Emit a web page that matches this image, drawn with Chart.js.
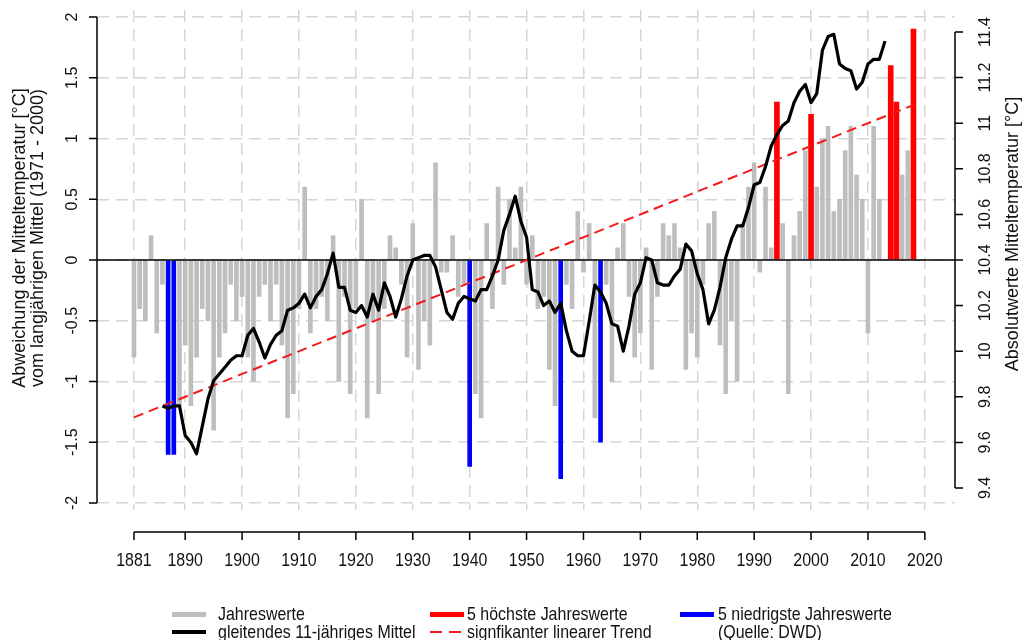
<!DOCTYPE html>
<html lang="de">
<head>
<meta charset="utf-8">
<title>Abweichung der Mitteltemperatur</title>
<script src="https://cdn.jsdelivr.net/npm/chart.js@4/dist/chart.umd.min.js"></script>
<style>
  html, body { margin: 0; padding: 0; background: #fff; }
  #wrap { position: relative; width: 1023px; height: 640px; }
  #legende { position: absolute; left: 0; top: 0; width: 1023px; height: 640px; pointer-events: none; color: #111; }
  .txt { position: absolute; line-height: 20px; height: 20px; white-space: nowrap; transform-origin: 0 50%; }
  .sym { position: absolute; width: 34px; }
</style>
</head>
<body>
<div id="wrap">
  <canvas id="klimaChart" width="1023" height="640"></canvas>
  <div id="legende">
    <div class="sym" style="left:172px; top:612px; height:5px; background:#bebebe"></div>
    <div class="txt" style="left:218px; top:604px">Jahreswerte</div>
    <div class="sym" style="left:430px; top:612px; height:5px; background:#ff0000"></div>
    <div class="txt" style="left:467px; top:604px">5 höchste Jahreswerte</div>
    <div class="sym" style="left:680px; top:612px; height:5px; background:#0000ff"></div>
    <div class="txt" style="left:718px; top:604px">5 niedrigste Jahreswerte</div>

    <div class="sym" style="left:172px; top:630px; height:4px; background:#000"></div>
    <div class="txt" style="left:218px; top:622px">gleitendes 11-jähriges Mittel</div>
    <div class="sym" style="left:430px; top:631px; height:2px; width:12px; background:#f21a1a"></div>
    <div class="sym" style="left:449px; top:631px; height:2px; width:12px; background:#f21a1a"></div>
    <div class="txt" style="left:467px; top:622px">signfikanter linearer Trend</div>
    <div class="txt" style="left:718px; top:622px">(Quelle: DWD)</div>
  </div>
</div>
<script>
// Jahre 1881 - 2018
const jahre = [
  1881, 1882, 1883, 1884, 1885, 1886, 1887, 1888, 1889, 1890,
  1891, 1892, 1893, 1894, 1895, 1896, 1897, 1898, 1899, 1900,
  1901, 1902, 1903, 1904, 1905, 1906, 1907, 1908, 1909, 1910,
  1911, 1912, 1913, 1914, 1915, 1916, 1917, 1918, 1919, 1920,
  1921, 1922, 1923, 1924, 1925, 1926, 1927, 1928, 1929, 1930,
  1931, 1932, 1933, 1934, 1935, 1936, 1937, 1938, 1939, 1940,
  1941, 1942, 1943, 1944, 1945, 1946, 1947, 1948, 1949, 1950,
  1951, 1952, 1953, 1954, 1955, 1956, 1957, 1958, 1959, 1960,
  1961, 1962, 1963, 1964, 1965, 1966, 1967, 1968, 1969, 1970,
  1971, 1972, 1973, 1974, 1975, 1976, 1977, 1978, 1979, 1980,
  1981, 1982, 1983, 1984, 1985, 1986, 1987, 1988, 1989, 1990,
  1991, 1992, 1993, 1994, 1995, 1996, 1997, 1998, 1999, 2000,
  2001, 2002, 2003, 2004, 2005, 2006, 2007, 2008, 2009, 2010,
  2011, 2012, 2013, 2014, 2015, 2016, 2017, 2018
];

// Abweichung vom Mittel 1971-2000 [°C]
const jahreswerte = [
  -0.8, -0.4, -0.5,  0.2, -0.6, -0.2, -1.6, -1.6, -1.2, -0.7,
  -1.2, -0.8, -0.4, -0.5, -1.4, -0.8, -0.6, -0.2, -0.5, -0.3,
  -0.8, -1.0, -0.3, -0.2, -0.5, -0.2, -0.7, -1.3, -1.1, -0.4,
   0.6, -0.6, -0.4, -0.3, -0.5,  0.2, -1.0, -0.3, -1.1, -0.4,
   0.5, -1.3, -0.5, -1.1, -0.4,  0.2,  0.1, -0.2, -0.8,  0.3,
  -0.9, -0.5, -0.7,  0.8, -0.1, -0.1,  0.2, -0.3, -0.2, -1.7,
  -1.1, -1.3,  0.3, -0.4,  0.6, -0.2,  0.5,  0.1,  0.6, -0.2,
   0.2, -0.4, -0.3, -0.9, -1.2, -1.8, -0.2, -0.4,  0.4, -0.1,
   0.3, -1.3, -1.5, -0.2, -1.0,  0.1,  0.3, -0.3, -0.8, -0.6,
   0.1, -0.9, -0.3,  0.3,  0.2,  0.3,  0.1, -0.9, -0.6, -0.8,
  -0.2,  0.3,  0.4, -0.7, -1.1, -0.5, -1.0,  0.3,  0.6,  0.8,
  -0.1,  0.6,  0.1,  1.3,  0.3, -1.1,  0.2,  0.4,  0.9,  1.2,
   0.6,  1.0,  1.1,  0.4,  0.5,  0.9,  1.1,  0.7,  0.5, -0.6,
   1.1,  0.5,  0.0,  1.6,  1.3,  0.7,  0.9,  1.9
];

const hoechsteJahre = [1994, 2000, 2014, 2015, 2018];
const niedrigsteJahre = [1887, 1888, 1940, 1956, 1963];

// gleitendes 11-jähriges Mittel, Absolutwerte [°C], 1886 - 2013
const gleitendesMittel = [
   9.76,  9.75,  9.76,  9.76,  9.63,  9.60,  9.55,  9.67,  9.79,  9.87,
   9.90,  9.93,  9.96,  9.98,  9.98, 10.07, 10.10, 10.04,  9.97, 10.03,
  10.07, 10.09, 10.18, 10.19, 10.21, 10.25, 10.19, 10.24, 10.27, 10.34,
  10.43, 10.28, 10.28, 10.18, 10.17, 10.20, 10.15, 10.25, 10.18, 10.30,
  10.24, 10.15, 10.23, 10.33, 10.40, 10.41, 10.42, 10.42, 10.37, 10.27,
  10.17, 10.14, 10.21, 10.24, 10.23, 10.22, 10.27, 10.27, 10.33, 10.40,
  10.53, 10.60, 10.68, 10.57, 10.50, 10.27, 10.26, 10.20, 10.22, 10.17,
  10.21, 10.09, 10.00,  9.98,  9.98, 10.13, 10.29, 10.26, 10.21, 10.12,
  10.11, 10.00, 10.11, 10.25, 10.30, 10.41, 10.40, 10.30, 10.29, 10.29,
  10.33, 10.36, 10.47, 10.44, 10.34, 10.27, 10.12, 10.18, 10.28, 10.41,
  10.49, 10.55, 10.55, 10.63, 10.73, 10.74, 10.81, 10.90, 10.95, 10.99,
  11.01, 11.09, 11.14, 11.17, 11.09, 11.13, 11.32, 11.38, 11.39, 11.26,
  11.24, 11.23, 11.15, 11.18, 11.26, 11.28, 11.28, 11.36
];
const mittelJahre = jahre.slice(5, 5 + gleitendesMittel.length);

// linearer Trend (Absolutwerte)
const trendJahre = [1881, 2018];
const trendWerte = [9.71, 11.08];

// Achsenbeschriftung
const jahresTicks = [1881, 1890, 1900, 1910, 1920, 1930, 1940, 1950, 1960, 1970, 1980, 1990, 2000, 2010, 2020];
const linkeTicks = [-2, -1.5, -1, -0.5, 0, 0.5, 1, 1.5, 2];
const rechteTicks = [9.4, 9.6, 9.8, 10, 10.2, 10.4, 10.6, 10.8, 11, 11.2, 11.4];

const xMin = 1874.5, xMax = 2025.3;
const schrift = '"Liberation Sans", Arial, sans-serif';

// Legende: etwas schmalere, höhere Schrift wie im Original
document.querySelectorAll('#legende .txt').forEach(el => {
  el.style.font = '19px ' + schrift;
  el.style.lineHeight = '20px';
  el.style.transform = 'scaleX(0.84)';
});

const graueWerte = jahre.map((j, i) => ({
  x: j,
  y: (hoechsteJahre.includes(j) || niedrigsteJahre.includes(j)) ? null : jahreswerte[i]
}));
const roteWerte = hoechsteJahre.map(j => ({ x: j, y: jahreswerte[jahre.indexOf(j)] }));
const blaueWerte = niedrigsteJahre.map(j => ({ x: j, y: jahreswerte[jahre.indexOf(j)] }));

// R-artige Achsen: Linien nur über den Tickbereich, gedrehte Beschriftung
const rAchsen = {
  id: 'rAchsen',
  afterDraw(chart) {
    const { ctx, chartArea: ca, scales } = chart;
    const sx = scales.x, sl = scales.y, sr = scales.y2;
    ctx.save();
    ctx.setLineDash([]);
    ctx.strokeStyle = '#000';
    ctx.fillStyle = '#111';
    ctx.lineWidth = 1.5;

    // links
    ctx.beginPath();
    ctx.moveTo(ca.left, sl.getPixelForValue(sl.ticks[0].value));
    ctx.lineTo(ca.left, sl.getPixelForValue(sl.ticks[sl.ticks.length - 1].value));
    sl.ticks.forEach(t => {
      const py = sl.getPixelForValue(t.value);
      ctx.moveTo(ca.left - 8, py);
      ctx.lineTo(ca.left, py);
    });
    // rechts
    ctx.moveTo(ca.right, sr.getPixelForValue(sr.ticks[0].value));
    ctx.lineTo(ca.right, sr.getPixelForValue(sr.ticks[sr.ticks.length - 1].value));
    sr.ticks.forEach(t => {
      const py = sr.getPixelForValue(t.value);
      ctx.moveTo(ca.right, py);
      ctx.lineTo(ca.right + 8, py);
    });
    // unten
    const yb = ca.bottom + 22;
    ctx.moveTo(sx.getPixelForValue(sx.ticks[0].value), yb);
    ctx.lineTo(sx.getPixelForValue(sx.ticks[sx.ticks.length - 1].value), yb);
    sx.ticks.forEach(t => {
      const px = sx.getPixelForValue(t.value);
      ctx.moveTo(px, yb);
      ctx.lineTo(px, yb + 8);
    });
    ctx.stroke();

    ctx.textAlign = 'center';
    ctx.textBaseline = 'middle';
    const gedreht = (text, x, y) => {
      ctx.save();
      ctx.translate(x, y);
      ctx.rotate(-Math.PI / 2);
      ctx.fillText(text, 0, 0);
      ctx.restore();
    };
    ctx.font = '16px ' + schrift;
    sl.ticks.forEach(t => gedreht(String(t.value), ca.left - 24, sl.getPixelForValue(t.value)));
    sr.ticks.forEach(t => gedreht(String(t.value), ca.right + 31, sr.getPixelForValue(t.value)));

    // Jahreszahlen unten, leicht gestaucht
    ctx.font = '19px ' + schrift;
    sx.ticks.forEach(t => {
      ctx.save();
      ctx.translate(sx.getPixelForValue(t.value), yb + 29);
      ctx.scale(0.84, 1);
      ctx.fillText(String(t.value), 0, 0);
      ctx.restore();
    });

    ctx.font = '18px ' + schrift;
    gedreht('Abweichung der Mitteltemperatur [°C]', 20, 238);
    gedreht('vom langjährigen Mittel (1971 - 2000)', 38, 238);
    gedreht('Absolutwerte Mitteltemperatur [°C]', 1013, 234);
    ctx.restore();
  }
};

const gitter = { color: '#d6d6d6', lineWidth: 1.5, drawTicks: false };

new Chart(document.getElementById('klimaChart'), {
  type: 'bar',
  data: {
    datasets: [
      {
        type: 'line',
        label: 'gleitendes 11-jähriges Mittel',
        data: mittelJahre.map((j, i) => ({ x: j, y: gleitendesMittel[i] })),
        yAxisID: 'y2',
        borderColor: '#000',
        borderWidth: 3.2,
        borderJoinStyle: 'round',
        pointRadius: 0,
        tension: 0,
        order: 1
      },
      {
        type: 'line',
        label: 'signfikanter linearer Trend',
        data: trendJahre.map((j, i) => ({ x: j, y: trendWerte[i] })),
        yAxisID: 'y2',
        borderColor: '#f21a1a',
        borderWidth: 2,
        borderDash: [10, 6],
        pointRadius: 0,
        order: 2
      },
      {
        type: 'line',
        label: 'Nulllinie',
        data: [{ x: xMin, y: 0 }, { x: xMax, y: 0 }],
        yAxisID: 'y',
        borderColor: '#000',
        borderWidth: 1.5,
        pointRadius: 0,
        order: 3
      },
      {
        label: '5 höchste Jahreswerte',
        data: roteWerte,
        yAxisID: 'y',
        backgroundColor: '#ff0000',
        barThickness: 5,
        grouped: false,
        order: 4
      },
      {
        label: '5 niedrigste Jahreswerte',
        data: blaueWerte,
        yAxisID: 'y',
        backgroundColor: '#0000ff',
        barThickness: 4,
        grouped: false,
        order: 5
      },
      {
        label: 'Jahreswerte',
        data: graueWerte,
        yAxisID: 'y',
        backgroundColor: '#bebebe',
        barThickness: 4,
        grouped: false,
        order: 6
      }
    ]
  },
  options: {
    responsive: false,
    animation: false,
    events: [],
    layout: { padding: { top: 10, left: 0, right: 0, bottom: 0 } },
    plugins: {
      legend: { display: false },
      tooltip: { enabled: false }
    },
    scales: {
      x: {
        type: 'linear',
        min: xMin,
        max: xMax,
        offset: false,
        afterBuildTicks: s => { s.ticks = jahresTicks.map(v => ({ value: v })); },
        afterFit: s => { s.height = 130; },
        ticks: { display: false, autoSkip: false, maxRotation: 0 },
        grid: Object.assign({ offset: false }, gitter),
        border: { display: false, dash: [12, 7] }
      },
      y: {
        type: 'linear',
        position: 'left',
        min: -2.058,
        max: 2.058,
        afterBuildTicks: s => { s.ticks = linkeTicks.map(v => ({ value: v })); },
        afterFit: s => { s.width = 97; },
        ticks: { display: false },
        grid: gitter,
        border: { display: false, dash: [12, 7] }
      },
      y2: {
        type: 'linear',
        position: 'right',
        min: 9.3035,
        max: 11.4965,
        afterBuildTicks: s => { s.ticks = rechteTicks.map(v => ({ value: v })); },
        afterFit: s => { s.width = 68; },
        ticks: { display: false },
        grid: { display: false },
        border: { display: false }
      }
    }
  },
  plugins: [rAchsen]
});
</script>
</body>
</html>
